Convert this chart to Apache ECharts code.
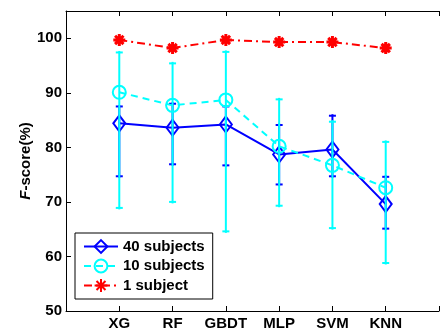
<!DOCTYPE html>
<html>
<head>
<meta charset="utf-8">
<script src="https://cdn.jsdelivr.net/npm/echarts@6/dist/echarts.min.js"></script>
<style>html,body{margin:0;padding:0;background:#fff}#c{width:442px;height:332px}</style>
</head>
<body>
<div id="c"></div>
<script>
var categories = ['XG', 'RF', 'GBDT', 'MLP', 'SVM', 'KNN'];
var yTicks = [50, 60, 70, 80, 90, 100];

var s40 = [84.4, 83.6, 84.2, 78.7, 79.6, 69.6];
var s40Low = [74.7, 76.9, 76.7, 73.2, 74.7, 65.1];
var s40High = [87.5, 88.0, 87.5, 84.1, 85.8, 74.6];

var s10 = [90.1, 87.7, 88.7, 80.2, 76.7, 72.6];
var s10Low = [68.9, 70.0, 64.6, 69.3, 65.2, 58.8];
var s10High = [97.4, 95.4, 97.5, 88.8, 84.7, 81.0];

var s1 = [99.7, 98.2, 99.7, 99.3, 99.3, 98.2];
var s1Low = [99.5, 97.9, 99.5, 99.1, 99.1, 97.6];
var s1High = [99.9, 98.5, 99.9, 99.5, 99.5, 98.8];

var FONT = '"Liberation Sans", Arial, sans-serif';
var BLUE = '#0000ff', CYAN = '#00ffff', RED = '#ff0000';

function pts(vals) { return vals.map(function (v, i) { return [i + 1, v]; }); }
function bars(lo, hi) { return lo.map(function (v, i) { return [i + 1, v, hi[i]]; }); }

function errRender(color, cap, lw) {
  return function (params, api) {
    var x = api.value(0);
    var pL = api.coord([x, api.value(1)]);
    var pH = api.coord([x, api.value(2)]);
    var st = { stroke: color, lineWidth: lw };
    return {
      type: 'group',
      children: [
        { type: 'line', shape: { x1: pL[0], y1: pL[1] + 1.5, x2: pH[0], y2: pH[1] - 1.5 }, style: st },
        { type: 'line', shape: { x1: pL[0] - cap, y1: pL[1], x2: pL[0] + cap, y2: pL[1] }, style: st },
        { type: 'line', shape: { x1: pH[0] - cap, y1: pH[1], x2: pH[0] + cap, y2: pH[1] }, style: st }
      ]
    };
  };
}

var asterisk = 'path://M5,0 L5,10 M0,5 L10,5 M1.5,1.5 L8.5,8.5 M1.5,8.5 L8.5,1.5';

var chart = echarts.init(document.getElementById('c'), null, { renderer: 'canvas' });
chart.setOption({
  animation: false,
  backgroundColor: '#fff',
  grid: { left: 66, right: -6, top: 11, bottom: 21, show: false },
  xAxis: [{
    type: 'value', min: 0, max: 7, interval: 1, position: 'bottom',
    axisLine: { lineStyle: { color: '#000', width: 1 } },
    axisTick: { inside: true, length: 5, lineStyle: { color: '#000' } },
    axisLabel: {
      margin: 5, color: '#000', fontWeight: 'bold', fontSize: 15, fontFamily: FONT,
      formatter: function (v) { return categories[v - 1] || ''; }
    },
    splitLine: { show: false }
  }, {
    type: 'value', min: 0, max: 7, interval: 1, position: 'top',
    axisLine: { lineStyle: { color: '#000', width: 1 } },
    axisTick: { inside: true, length: 5, lineStyle: { color: '#000' } },
    axisLabel: { show: false },
    splitLine: { show: false }
  }],
  yAxis: [{
    type: 'value', min: 50, max: 105, interval: 10,
    axisLine: { show: true, lineStyle: { color: '#000', width: 1 } },
    axisTick: { show: true, inside: true, length: 5, lineStyle: { color: '#000' } },
    axisLabel: {
      margin: 4, color: '#000', fontWeight: 'bold', fontSize: 15, fontFamily: FONT,
      formatter: function (v) { return yTicks.indexOf(v) >= 0 ? String(v) : ''; }
    },
    splitLine: { show: false },
    name: '{i|F}-score(%)',
    nameLocation: 'middle', nameGap: 33, nameRotate: 90, nameMoveOverlap: false,
    nameTextStyle: {
      color: '#000', fontWeight: 'bold', fontSize: 15, fontFamily: FONT,
      rich: { i: { fontStyle: 'italic', fontWeight: 'bold', fontSize: 15, fontFamily: FONT, color: '#000' } }
    }
  }],
  legend: {
    orient: 'vertical', left: 75, top: 233,
    padding: [6, 8, 6, 8], itemGap: 4.5, itemWidth: 34, itemHeight: 16,
    backgroundColor: '#fff', borderColor: '#000', borderWidth: 1, borderRadius: 0,
    textStyle: { color: '#000', fontWeight: 'bold', fontSize: 15, fontFamily: FONT },
    data: ['40 subjects', '10 subjects', '1 subject']
  },
  series: [
    {
      name: '40 subjects', type: 'line', z: 2, data: pts(s40),
      symbol: 'diamond', symbolSize: [12, 16],
      lineStyle: { color: BLUE, width: 2, type: 'solid' },
      itemStyle: { color: 'rgba(255,255,255,0)', borderColor: BLUE, borderWidth: 2 }
    },
    {
      name: 'err40', type: 'custom', z: 2, data: bars(s40Low, s40High),
      renderItem: errRender(BLUE, 3.5, 2), silent: true
    },
    {
      name: '10 subjects', type: 'line', z: 3, data: pts(s10),
      symbol: 'circle', symbolSize: 13,
      lineStyle: { color: CYAN, width: 2, type: [7, 5] },
      itemStyle: { color: 'rgba(255,255,255,0)', borderColor: CYAN, borderWidth: 2 }
    },
    {
      name: 'err10', type: 'custom', z: 3, data: bars(s10Low, s10High),
      renderItem: errRender(CYAN, 3.5, 2), silent: true
    },
    {
      name: 'err1', type: 'custom', z: 4, data: bars(s1Low, s1High),
      renderItem: errRender(RED, 3, 2), silent: true
    },
    {
      name: '1 subject', type: 'line', z: 4, data: pts(s1),
      symbol: asterisk, symbolSize: 12,
      lineStyle: { color: RED, width: 2, type: [8, 4, 2, 4] },
      itemStyle: { color: 'rgba(255,255,255,0)', borderColor: RED, borderWidth: 3 }
    }
  ]
});
</script>
</body>
</html>
